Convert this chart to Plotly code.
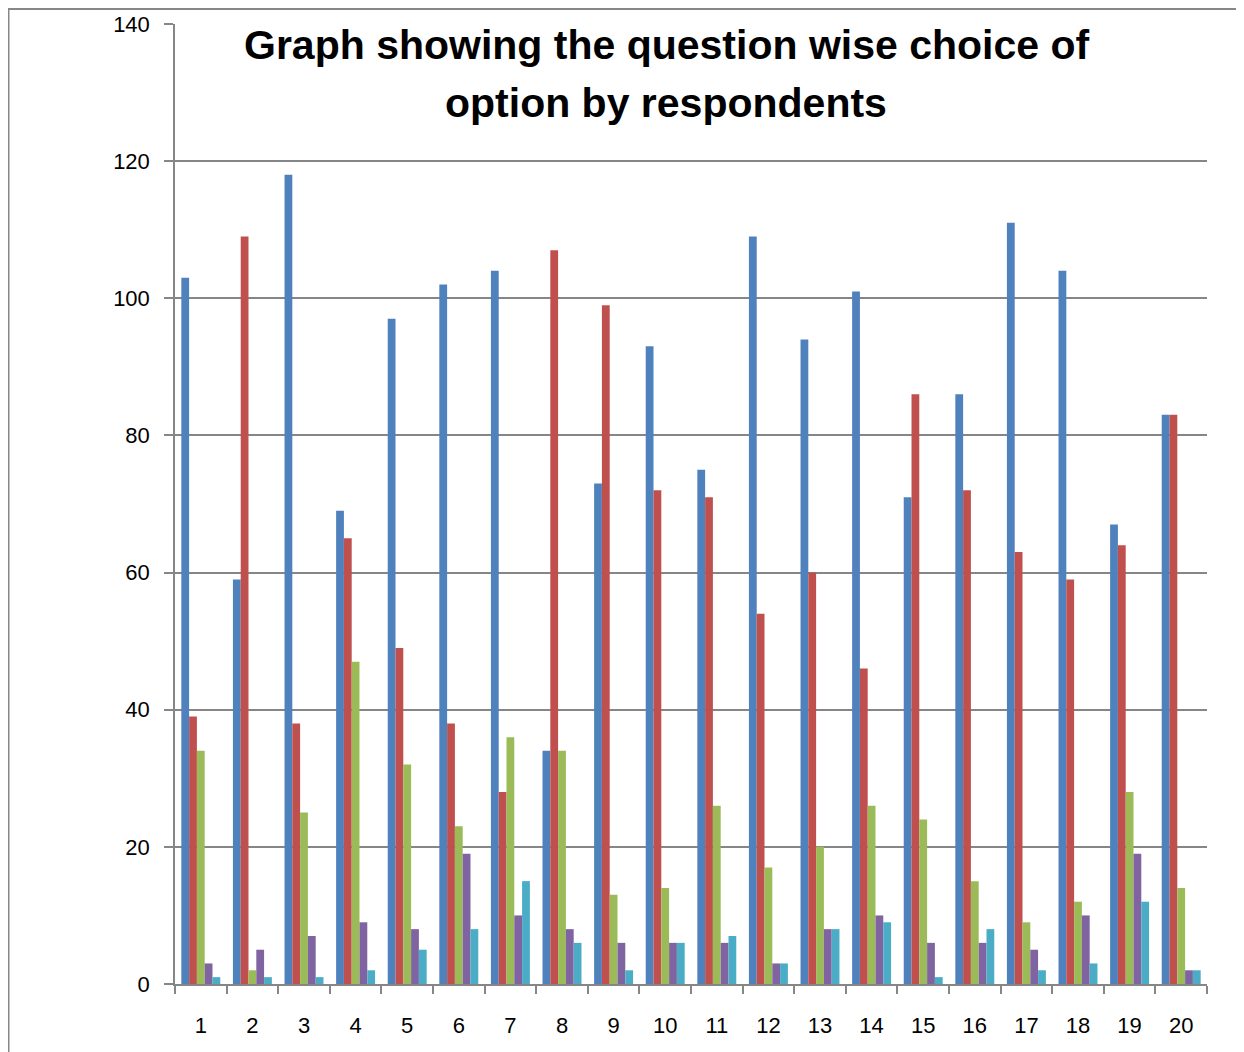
import plotly.graph_objects as go

questions = [str(i) for i in range(1, 21)]
option_a = [103, 59, 118, 69, 97, 102, 104, 34, 73, 93, 75, 109, 94, 101, 71, 86, 111, 104, 67, 83]
option_b = [39, 109, 38, 65, 49, 38, 28, 107, 99, 72, 71, 54, 60, 46, 86, 72, 63, 59, 64, 83]
option_c = [34, 2, 25, 47, 32, 23, 36, 34, 13, 14, 26, 17, 20, 26, 24, 15, 9, 12, 28, 14]
option_d = [3, 5, 7, 9, 8, 19, 10, 8, 6, 6, 6, 3, 8, 10, 6, 6, 5, 10, 19, 2]
option_e = [1, 1, 1, 2, 5, 8, 15, 6, 2, 6, 7, 3, 8, 9, 1, 8, 2, 3, 12, 2]

series = [
    ("A", option_a, "#4F81BD"),
    ("B", option_b, "#C0504D"),
    ("C", option_c, "#9BBB59"),
    ("D", option_d, "#8064A2"),
    ("E", option_e, "#4BACC6"),
]

fig = go.Figure()
for name, vals, col in series:
    fig.add_trace(go.Bar(x=questions, y=vals, name=name, marker=dict(color=col, line=dict(width=0))))

# page has an 8px body margin; work in figure coordinates
OFF = 8
W, H = 1236, 1044
L, R, T, B = 175 - OFF, 1207 - OFF, 24 - OFF, 984 - OFF
pw, ph = R - L, B - T

def px_x(x):
    return (x - OFF - L) / pw

def px_y(y):
    return (B - (y - OFF)) / ph

grid = "#868686"
fig.update_layout(
    width=W, height=H,
    margin=dict(l=L, r=W - R, t=T, b=H - B, pad=0, autoexpand=False),
    paper_bgcolor="white", plot_bgcolor="white",
    barmode="group", bargap=0.245, bargroupgap=0,
    showlegend=False,
    font=dict(family="Liberation Sans, Arial, sans-serif", size=22, color="black"),
    xaxis=dict(
        type="category", showgrid=False, showline=True, linecolor=grid, linewidth=1.5,
        ticks="outside", tickson="boundaries", ticklen=8, tickcolor=grid, tickwidth=1.5,
        tickfont=dict(size=22), ticklabelstandoff=21, automargin=False,
    ),
    yaxis=dict(
        range=[0, 140], dtick=20, showgrid=True, gridcolor=grid, gridwidth=1.5,
        showline=True, linecolor=grid, linewidth=1.5, zeroline=False,
        ticks="outside", ticklen=9, tickcolor=grid, tickwidth=1.5,
        tickfont=dict(size=22), ticklabelstandoff=10, automargin=False,
    ),
    shapes=[dict(
        type="rect", xref="paper", yref="paper",
        x0=px_x(8.5), x1=px_x(1270), y0=px_y(1080), y1=px_y(9),
        line=dict(color="#878787", width=2), fillcolor="rgba(0,0,0,0)", layer="below",
    )],
    annotations=[
        dict(text="<b>Graph showing the question wise choice of</b>", xref="paper", yref="paper",
             x=px_x(666), y=px_y(45), showarrow=False, xanchor="center", yanchor="middle",
             font=dict(size=41, family="Liberation Sans, Arial, sans-serif", color="black")),
        dict(text="<b>option by respondents</b>", xref="paper", yref="paper",
             x=px_x(666), y=px_y(103), showarrow=False, xanchor="center", yanchor="middle",
             font=dict(size=41, family="Liberation Sans, Arial, sans-serif", color="black")),
    ],
)

fig.write_html("out.html")
